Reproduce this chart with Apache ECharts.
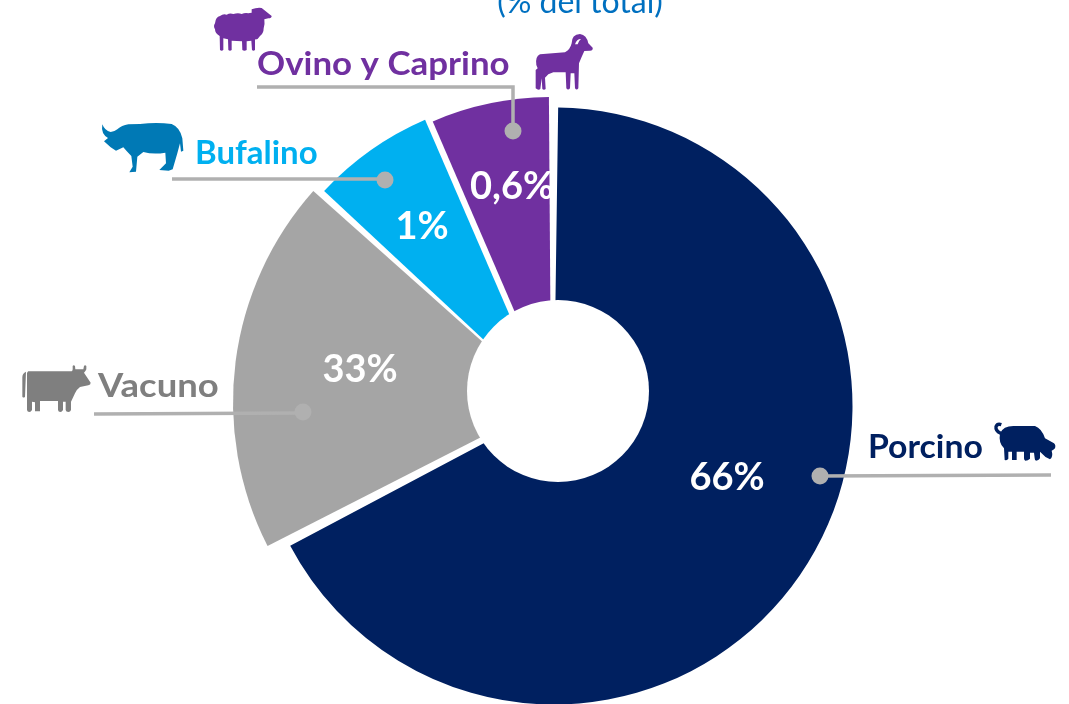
<!DOCTYPE html>
<html lang="es">
<head>
    <meta charset="UTF-8"/>
    <title>Especies</title>
    <script src="https://cdn.jsdelivr.net/npm/echarts@6/dist/echarts.min.js"></script>
    <style>
        html, body { margin: 0; padding: 0; background: #fff; }
        #main { width: 1069px; height: 704px; }
    </style>
</head>
<body>
<div id="main"></div>
<script type="text/javascript">
    // datos
    var categories = ['Porcino', 'Vacuno', 'Bufalino', 'Ovino y Caprino'];
    var shareLabels = ['66%', '33%', '1%', '0,6%'];
    // el dibujo no es proporcional a las etiquetas: grados medidos en cada sector
    var sliceDegrees = [241.3, 68.7, 23.6, 22.9];
    var sliceStarts = [0.8, 243, 313, 336.7];

    var colors = ['#002060', '#a5a5a5', '#00b0f0', '#7030a0'];
    var nameColors = ['#002060', '#7f7f7f', '#00b0f0', '#7030a0'];
    var centers = [[554, 406], [550, 402], [545, 397], [551, 396]];
    var radii = [298.5, 317, 302, 299];
    var valuePos = [[727, 478], [360, 370], [422, 227], [512, 187]];
    var namePos = [[868, 447.5], [98, 387], [195, 153.5], [257, 64.5]];
    var nameStretch = [1.055, 1.14, 1.03, 1.09];
    var FONT = 'Lato, "Noto Sans", sans-serif';
    var LINE = '#b0b0b0';

    var series = [];
    for (var i = 0; i < categories.length; i++) {
        series.push({
            type: 'pie',
            silent: true,
            animation: false,
            center: centers[i],
            radius: [0, radii[i]],
            startAngle: 90 - sliceStarts[i],
            label: {
                show: true,
                position: 'inside',
                formatter: shareLabels[i],
                color: '#fff',
                fontFamily: FONT,
                fontWeight: 'bold',
                fontSize: 38
            },
            labelLayout: { x: valuePos[i][0], y: valuePos[i][1], align: 'center', verticalAlign: 'middle' },
            labelLine: { show: false },
            data: [
                { name: categories[i], value: sliceDegrees[i], itemStyle: { color: colors[i] } },
                { name: 'resto', value: 360 - sliceDegrees[i], itemStyle: { opacity: 0 }, label: { show: false } }
            ]
        });
    }

    // siluetas de los animales, dibujadas a 3x
    var icons = {
        cow: 'M85 94 L215 94 Q218 93 218 88 L218 78 Q221 74 225 78 L226 88 L250 88 L252 78 Q255 74 259 78 L259 88 Q258 92 252 98 L272 128 Q272 134 265 136 L240 141 Q228 150 225 160 L213 185 L213 210 Q211 216 205 216 Q198 216 197 210 L197 185 L189 185 L189 210 Q186 216 181 216 Q175 216 174 210 L174 183 L120 183 L120 214 L105 214 L105 187 L96 185 L96 210 Q93 216 88 216 Q82 216 81 210 L81 100 Q82 96 85 94 Z M67 112 Q67 100 78 95 L75 170 Q71 175 67 170 Z',
        pig: 'M600 100 Q610 78 640 78 L705 78 Q725 85 735 115 L762 130 Q768 135 765 145 Q760 150 755 152 Q760 170 750 178 Q735 172 720 155 L720 175 Q716 182 708 182 Q704 180 704 175 L702 158 L690 158 L690 176 Q684 182 676 182 Q672 180 672 175 L672 155 L650 155 L650 180 L636 180 L636 155 L625 155 L625 176 Q620 182 614 180 L612 145 Q595 130 600 100 Z',
        pigTail: 'M602 100 Q586 92 588 80 Q592 70 604 74',
        buffalo: 'M37 43 Q44 62 62 66 Q72 66 82 58 Q95 46 115 43 L150 42 Q200 36 245 42 Q270 52 277 85 L280 122 L273 125 L270 100 L262 130 L248 178 L236 182 L208 180 L228 160 L226 128 Q190 134 160 126 L142 140 L138 185 L118 187 L128 170 L124 138 Q108 122 100 112 L78 122 L62 112 L42 94 L54 84 Q32 72 37 43 Z',
        sheep: 'M30 70 Q32 50 45 48 Q55 40 65 44 Q75 38 85 42 Q100 38 110 42 Q120 38 130 40 L140 38 L140 28 Q155 22 170 24 L200 48 Q200 55 190 55 L178 58 Q180 70 176 85 Q176 100 165 108 Q158 120 150 118 L150 150 Q145 155 141 150 L139 122 L125 124 L125 150 Q118 155 112 150 L111 124 L80 122 L80 150 Q75 155 70 150 L69 118 L55 115 L55 150 Q50 155 45 150 L44 108 Q30 100 30 88 Q24 78 30 70 Z',
        ram: 'M45 88 L120 82 Q135 75 140 55 Q140 28 165 27 Q185 30 190 55 L203 68 Q205 76 195 77 L178 78 Q170 95 162 115 L160 190 Q155 197 150 190 L148 145 L137 145 L135 190 Q129 197 124 190 L122 142 L85 142 L70 148 L60 158 L62 192 Q57 197 52 192 L50 160 L46 192 Q40 197 32 190 L32 135 L38 130 L34 120 Q30 95 45 88 Z',
        ramHorn: 'M150 58 Q155 42 168 42 Q160 48 158 58 Z'
    };
    // graphic no acepta type 'path', hay que registrar cada forma
    Object.keys(icons).forEach(function (k) {
        echarts.graphic.registerShape(k, echarts.graphic.extendPath(icons[k], {}));
    });

    function icon(name, x, y, style) {
        return { type: name, z: 5, x: x, y: y, scaleX: 1 / 3, scaleY: 1 / 3, style: style };
    }
    function leader(points, dot) {
        return [
            { type: 'polyline', z: 6, shape: { points: points }, style: { stroke: LINE, lineWidth: 3.5, fill: null } },
            { type: 'circle', z: 7, shape: { cx: dot[0], cy: dot[1], r: 8.5 }, style: { fill: LINE } }
        ];
    }

    var elements = [
        { type: 'circle', z: 4, shape: { cx: 558, cy: 391, r: 91 }, style: { fill: '#fff' } },
        { type: 'text', z: 5, x: 580, y: 3, style: { text: '(% del total)', fill: '#0070c0', font: '32px ' + FONT, textAlign: 'center', textVerticalAlign: 'middle' } },
        icon('cow', 0, 340, { fill: '#7f7f7f' }),
        icon('pig', 800, 400, { fill: '#002060' }),
        icon('pigTail', 800, 400, { fill: null, stroke: '#002060', lineWidth: 10 }),
        icon('buffalo', 90, 110, { fill: '#0079b5' }),
        icon('sheep', 205, 0, { fill: '#7030a0' }),
        icon('ram', 525, 25, { fill: '#7030a0' }),
        icon('ramHorn', 525, 25, { fill: '#fff' })
    ];
    for (var n = 0; n < categories.length; n++) {
        elements.push({
            type: 'text', z: 5, x: namePos[n][0], y: namePos[n][1], scaleX: nameStretch[n],
            style: { text: categories[n], fill: nameColors[n], font: 'bold 32px ' + FONT, textAlign: 'left', textVerticalAlign: 'middle' }
        });
    }
    elements = elements
        .concat(leader([[820, 476], [1051, 475]], [820, 476]))
        .concat(leader([[94, 414], [303, 413]], [303, 412]))
        .concat(leader([[172, 179], [385, 179]], [385, 180]))
        .concat(leader([[257, 87], [513, 87], [513, 131]], [513, 131]));

    var myChart = echarts.init(document.getElementById('main'));
    myChart.setOption({
        backgroundColor: '#fff',
        animation: false,
        series: series,
        graphic: { elements: elements }
    });
</script>
</body>
</html>
